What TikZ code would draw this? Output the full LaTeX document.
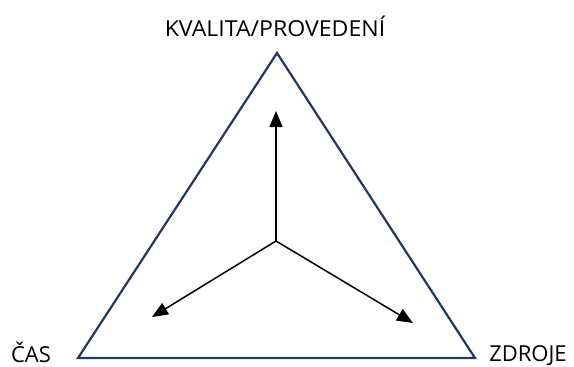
\documentclass[tikz,border=0pt]{standalone}
\usepackage{fontspec}
\setmainfont{Open Sans}
\usetikzlibrary{arrows.meta}
\definecolor{navy}{HTML}{1F3864}
\tikzset{
  tri/.style={draw=navy, line width=2.2pt, line join=miter},
  vec/.style={draw=black, line width=1.5pt, -{Triangle[length=16pt,width=13pt]}},
  lbl/.style={font=\fontsize{22}{26}\selectfont, text=black, inner sep=0pt, anchor=base}
}
\begin{document}
\begin{tikzpicture}[x=1pt,y=-1pt]
\useasboundingbox (0,0) rectangle (574,367);
\coordinate (A) at (277,53);
\coordinate (B) at (78,358);
\coordinate (C) at (475,358);
\coordinate (O) at (276,241);
\coordinate (U) at (276,111);
\coordinate (L) at (152,317);
\coordinate (R) at (413,323);
\draw[tri] (A) -- (B) -- (C) -- cycle;
\draw[vec] (O) -- (U);
\draw[vec] (O) -- (L);
\draw[vec] (O) -- (R);
\node[lbl, xscale=1.05] (top) at (275,36) {KVALITA/PROVEDENÍ};
\node[lbl] (cas) at (31,362) {ČAS};
\node[lbl] (zdr) at (528,361) {ZDROJE};
\end{tikzpicture}
\end{document}
